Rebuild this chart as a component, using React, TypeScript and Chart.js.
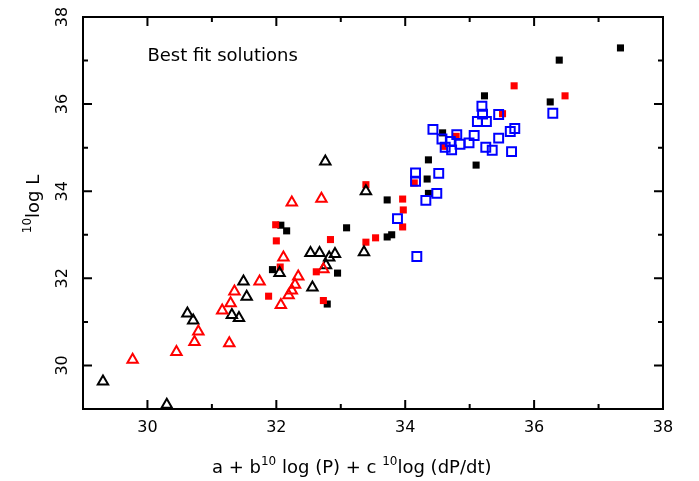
import React, { useEffect, useRef } from 'react';
import { Chart, registerables } from 'chart.js';

Chart.register(...registerables);

// Axis ranges and ticks
const xRange = [29, 38];
const yRange = [29, 38];
const xTickValues = [30, 32, 34, 36, 38];
const yTickValues = [30, 32, 34, 36, 38];
const minorTickValues = [29, 30, 31, 32, 33, 34, 35, 36, 37, 38];

// Texts
const annotationText = 'Best fit solutions';
const annotationPos = [30, 37];
const xTitleParts = [
  { t: 'a + b', sup: false },
  { t: '10', sup: true },
  { t: ' log (P) + c ', sup: false },
  { t: '10', sup: true },
  { t: 'log (dP/dt)', sup: false },
];
const yTitleParts = [
  { t: '10', sup: true },
  { t: 'log L', sup: false },
];

// Series: black open triangles
const blackTriX = [32.76, 33.39, 32.53, 32.67, 32.82, 32.91, 33.36, 32.77, 32.05, 32.56, 31.49, 31.54, 31.31, 31.42, 30.62, 30.71, 29.31, 30.30];
const blackTriY = [34.68, 34.00, 32.58, 32.58, 32.48, 32.56, 32.60, 32.30, 32.12, 31.79, 31.93, 31.58, 31.16, 31.09, 31.19, 31.03, 29.63, 29.10];

// Series: red open triangles
const redTriX = [32.24, 32.70, 32.11, 32.73, 32.34, 32.29, 32.24, 32.19, 31.74, 31.35, 32.07, 31.29, 31.16, 30.79, 30.73, 31.27, 30.45, 29.77];
const redTriY = [33.74, 33.83, 32.48, 32.21, 32.04, 31.85, 31.72, 31.61, 31.93, 31.70, 31.39, 31.43, 31.26, 30.78, 30.54, 30.51, 30.31, 30.13];

// Series: red filled squares
const redSqX = [33.39, 31.99, 32.00, 32.84, 33.39, 33.54, 32.06, 32.62, 31.88, 32.73, 33.96, 33.97, 33.96, 34.14, 34.60, 34.79, 35.51, 35.69, 36.48];
const redSqY = [34.15, 33.23, 32.86, 32.89, 32.83, 32.93, 32.26, 32.15, 31.59, 31.49, 33.82, 33.57, 33.18, 34.19, 35.03, 35.26, 35.78, 36.42, 36.19];

// Series: black filled squares
const blackSqX = [37.34, 36.39, 35.23, 36.25, 34.58, 34.36, 35.10, 34.34, 34.36, 33.72, 33.72, 33.79, 32.07, 32.16, 33.09, 31.94, 32.95, 32.79];
const blackSqY = [37.29, 37.01, 36.19, 36.05, 35.34, 34.72, 34.60, 34.28, 33.95, 33.80, 32.95, 33.00, 33.22, 33.09, 33.16, 32.20, 32.12, 31.41];

// Series: blue open squares
const blueSqX = [36.29, 35.19, 35.20, 35.45, 35.12, 35.26, 34.43, 35.70, 35.63, 34.80, 35.07, 34.57, 35.45, 34.70, 34.99, 34.85, 34.62, 34.72, 35.25, 35.35, 35.65, 34.16, 34.52, 34.16, 34.49, 34.32, 33.88, 34.18];
const blueSqY = [35.79, 35.95, 35.77, 35.76, 35.60, 35.60, 35.42, 35.44, 35.37, 35.30, 35.28, 35.20, 35.22, 35.14, 35.11, 35.08, 35.01, 34.95, 35.01, 34.94, 34.91, 34.42, 34.41, 34.23, 33.95, 33.79, 33.37, 32.50];

const zip = (xs: number[], ys: number[]) => xs.map((x, i) => ({ x, y: ys[i] }));

const FONT = '"DejaVu Sans", sans-serif';

function drawParts(ctx: CanvasRenderingContext2D, parts: { t: string; sup: boolean }[], x0: number, main: number, sup: number, raise: number) {
  let x = x0;
  for (const p of parts) {
    ctx.font = `${p.sup ? sup : main}px ${FONT}`;
    ctx.fillText(p.t, x, p.sup ? -raise : 0);
    x += ctx.measureText(p.t).width;
  }
  return x - x0;
}

function measureParts(ctx: CanvasRenderingContext2D, parts: { t: string; sup: boolean }[], main: number, sup: number) {
  let w = 0;
  for (const p of parts) {
    ctx.font = `${p.sup ? sup : main}px ${FONT}`;
    w += ctx.measureText(p.t).width;
  }
  return w;
}

const framePlugin = {
  id: 'frameTicks',
  afterDatasetsDraw(chart: any) {
    const { ctx, chartArea, scales } = chart;
    const { left, right, top, bottom } = chartArea;
    const xs = scales.x;
    const ys = scales.y;
    ctx.save();
    ctx.strokeStyle = '#000';
    ctx.fillStyle = '#000';
    ctx.lineWidth = 2;
    ctx.beginPath();
    ctx.rect(left, top, right - left, bottom - top);
    ctx.stroke();
    ctx.beginPath();
    for (const v of minorTickValues) {
      const major = xTickValues.includes(v);
      const len = major ? 9 : 5;
      const px = xs.getPixelForValue(v);
      ctx.moveTo(px, bottom);
      ctx.lineTo(px, bottom - len);
      ctx.moveTo(px, top);
      ctx.lineTo(px, top + len);
    }
    for (const v of minorTickValues) {
      const major = yTickValues.includes(v);
      const len = major ? 9 : 5;
      const py = ys.getPixelForValue(v);
      ctx.moveTo(left, py);
      ctx.lineTo(left + len, py);
      ctx.moveTo(right, py);
      ctx.lineTo(right - len, py);
    }
    ctx.stroke();

    // Y tick labels (rotated)
    ctx.font = `16px ${FONT}`;
    ctx.textAlign = 'center';
    ctx.textBaseline = 'middle';
    for (const v of yTickValues) {
      const py = ys.getPixelForValue(v);
      ctx.save();
      ctx.translate(left - 20, py);
      ctx.rotate(-Math.PI / 2);
      ctx.fillText(String(v), 0, 0);
      ctx.restore();
    }

    // Annotation
    ctx.textAlign = 'left';
    ctx.textBaseline = 'alphabetic';
    ctx.font = `18px ${FONT}`;
    ctx.fillText(annotationText, xs.getPixelForValue(annotationPos[0]), ys.getPixelForValue(annotationPos[1]));

    // X title
    ctx.save();
    ctx.translate(212, 473);
    drawParts(ctx, xTitleParts, 0, 18, 12, 8);
    ctx.restore();

    // Y title
    ctx.save();
    const yw = measureParts(ctx, yTitleParts, 18, 12);
    ctx.translate(39, 204);
    ctx.rotate(-Math.PI / 2);
    drawParts(ctx, yTitleParts, -yw / 2, 18, 12, 8);
    ctx.restore();

    ctx.restore();
  },
};

export default function App() {
  const ref = useRef<HTMLCanvasElement | null>(null);
  useEffect(() => {
    if (!ref.current) return;
    const chart = new Chart(ref.current, {
      type: 'scatter',
      data: {
        datasets: [
          {
            label: 'blue open squares',
            data: zip(blueSqX, blueSqY),
            pointStyle: 'rect',
            pointRadius: 6.3,
            borderWidth: 2,
            borderColor: '#0000ff',
            backgroundColor: 'rgba(0,0,0,0)',
            clip: false,
          },
          {
            label: 'red triangles',
            data: zip(redTriX, redTriY),
            pointStyle: 'triangle',
            pointRadius: 6,
            borderWidth: 2,
            borderColor: '#ff0000',
            backgroundColor: 'rgba(0,0,0,0)',
            clip: false,
          },
          {
            label: 'black triangles',
            data: zip(blackTriX, blackTriY),
            pointStyle: 'triangle',
            pointRadius: 6,
            borderWidth: 2,
            borderColor: '#000000',
            backgroundColor: 'rgba(0,0,0,0)',
            clip: false,
          },
          {
            label: 'red squares',
            data: zip(redSqX, redSqY),
            pointStyle: 'rect',
            pointRadius: 5,
            borderWidth: 0,
            borderColor: '#ff0000',
            backgroundColor: '#ff0000',
            clip: false,
          },
          {
            label: 'black squares',
            data: zip(blackSqX, blackSqY),
            pointStyle: 'rect',
            pointRadius: 5,
            borderWidth: 0,
            borderColor: '#000000',
            backgroundColor: '#000000',
            clip: false,
          },
        ] as any,
      },
      options: {
        responsive: false,
        animation: false,
        events: [],
        layout: { padding: { left: 0, top: 17, right: 36, bottom: 0 }, autoPadding: false },
        plugins: { legend: { display: false }, tooltip: { enabled: false }, title: { display: false } },
        scales: {
          x: {
            type: 'linear',
            position: 'bottom',
            min: xRange[0],
            max: xRange[1],
            grid: { display: false, drawTicks: false },
            border: { display: false },
            afterBuildTicks: (scale: any) => {
              scale.ticks = xTickValues.map((v) => ({ value: v }));
            },
            afterFit: (scale: any) => {
              scale.height = 72;
            },
            ticks: {
              color: '#000',
              padding: 9,
              maxRotation: 0,
              font: { family: FONT, size: 16 },
              callback: (v: any) => String(v),
            },
          },
          y: {
            type: 'linear',
            position: 'left',
            min: yRange[0],
            max: yRange[1],
            grid: { display: false, drawTicks: false },
            border: { display: false },
            afterBuildTicks: (scale: any) => {
              scale.ticks = yTickValues.map((v) => ({ value: v }));
            },
            afterFit: (scale: any) => {
              scale.width = 83;
            },
            ticks: { display: false },
          },
        },
      } as any,
      plugins: [framePlugin],
    });
    return () => chart.destroy();
  }, []);
  return (
    <div style={{ position: 'fixed', left: 0, top: 0, width: 699, height: 481, background: '#fff' }}>
      <canvas ref={ref} width={699} height={481} style={{ display: 'block', width: 699, height: 481 }} />
    </div>
  );
}
